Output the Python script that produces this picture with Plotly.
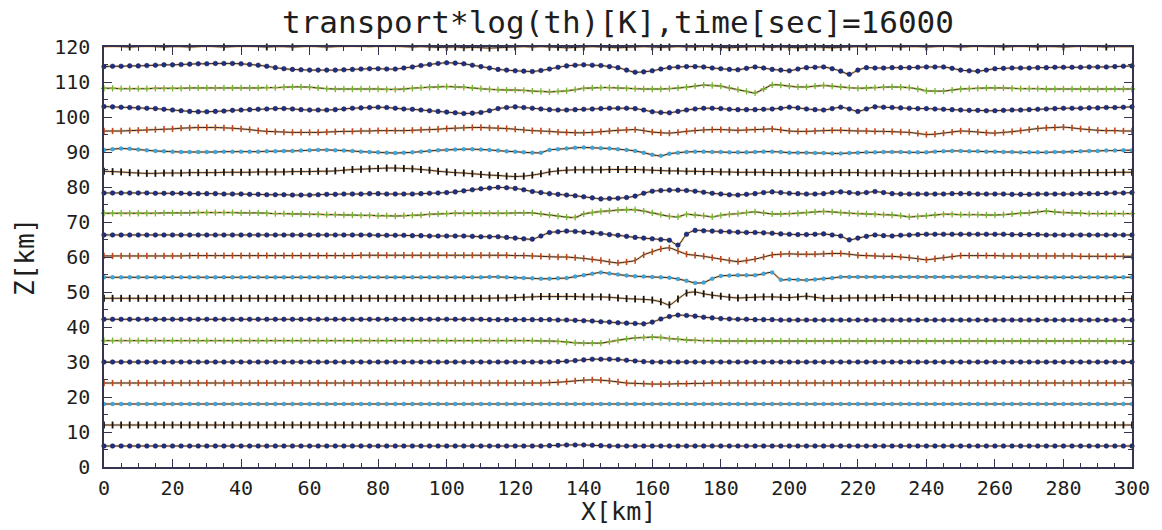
import plotly.graph_objects as go

# Horizontal positions of the tracer points along each isentrope [km]
X_KM = [i * 2.5 for i in range(121)]

# Undisturbed heights of the isentropes [km]
LEVELS = [6, 12, 18, 24, 30, 36, 42, 48, 54, 60, 66, 72, 78, 84, 90, 96, 102, 108, 114, 120]

# Vertical displacement of every isentrope at X_KM [km]
DEV_Z006 = [0.0, 0.0, 0.0, 0.0, 0.0, 0.0, 0.0, 0.0, 0.0, 0.0,
            0.0, 0.0, 0.0, 0.0, 0.0, 0.0, 0.0, 0.0, 0.0, 0.0,
            0.0, 0.0, 0.0, 0.0, 0.0, 0.0, 0.0, 0.0, 0.0, 0.0,
            0.0, 0.0, 0.0, 0.0, 0.0, 0.0, 0.0, 0.0, 0.0, 0.0,
            0.0, 0.0, 0.0, 0.0, 0.0, 0.0, 0.0, 0.0, 0.0, 0.0,
            0.0, 0.0, 0.1, 0.2, 0.3, 0.3, 0.3, 0.2, 0.1, 0.0,
            0.0, 0.0, 0.0, 0.0, 0.0, 0.0, 0.0, 0.0, 0.0, 0.0,
            0.0, 0.0, 0.0, 0.0, 0.0, 0.0, 0.0, 0.0, 0.0, 0.0,
            0.0, 0.0, 0.0, 0.0, 0.0, 0.0, 0.0, 0.0, 0.0, 0.0,
            0.0, 0.0, 0.0, 0.0, 0.0, 0.0, 0.0, 0.0, 0.0, 0.0,
            0.0, 0.0, 0.0, 0.0, 0.0, 0.0, 0.0, 0.0, 0.0, 0.0,
            0.0, 0.0, 0.0, 0.0, 0.0, 0.0, 0.0, 0.0, 0.0, 0.0,
            0.0]
DEV_Z012 = [0.0, 0.0, 0.0, 0.0, 0.0, 0.0, 0.0, 0.0, 0.0, 0.0,
            0.0, 0.0, 0.0, 0.0, 0.0, 0.0, 0.0, 0.0, 0.0, 0.0,
            0.0, 0.0, 0.0, 0.0, 0.0, 0.0, 0.0, 0.0, 0.0, 0.0,
            0.0, 0.0, 0.0, 0.0, 0.0, 0.0, 0.0, 0.0, 0.0, 0.0,
            0.0, 0.0, 0.0, 0.0, 0.0, 0.0, 0.0, 0.0, 0.0, 0.0,
            0.0, 0.0, 0.0, 0.0, 0.0, 0.0, 0.0, 0.0, 0.0, 0.0,
            0.0, 0.0, 0.0, 0.0, 0.0, 0.0, 0.0, 0.0, 0.0, 0.0,
            0.0, 0.0, 0.0, 0.0, 0.0, 0.0, 0.0, 0.0, 0.0, 0.0,
            0.0, 0.0, 0.0, 0.0, 0.0, 0.0, 0.0, 0.0, 0.0, 0.0,
            0.0, 0.0, 0.0, 0.0, 0.0, 0.0, 0.0, 0.0, 0.0, 0.0,
            0.0, 0.0, 0.0, 0.0, 0.0, 0.0, 0.0, 0.0, 0.0, 0.0,
            0.0, 0.0, 0.0, 0.0, 0.0, 0.0, 0.0, 0.0, 0.0, 0.0,
            0.0]
DEV_Z018 = [0.0, 0.0, 0.0, 0.0, 0.0, 0.0, 0.0, 0.0, 0.0, 0.0,
            0.0, 0.0, 0.0, 0.0, 0.0, 0.0, 0.0, 0.0, 0.0, 0.0,
            0.0, 0.0, 0.0, 0.0, 0.0, 0.0, 0.0, 0.0, 0.0, 0.0,
            0.0, 0.0, 0.0, 0.0, 0.0, 0.0, 0.0, 0.0, 0.0, 0.0,
            0.0, 0.0, 0.0, 0.0, 0.0, 0.0, 0.0, 0.0, 0.0, 0.0,
            0.0, 0.0, 0.0, 0.0, 0.0, 0.0, 0.0, 0.0, 0.0, 0.0,
            0.0, 0.0, 0.0, 0.0, 0.0, 0.0, 0.0, 0.0, 0.0, 0.0,
            0.0, 0.0, 0.0, 0.0, 0.0, 0.0, 0.0, 0.0, 0.0, 0.0,
            0.0, 0.0, 0.0, 0.0, 0.0, 0.0, 0.0, 0.0, 0.0, 0.0,
            0.0, 0.0, 0.0, 0.0, 0.0, 0.0, 0.0, 0.0, 0.0, 0.0,
            0.0, 0.0, 0.0, 0.0, 0.0, 0.0, 0.0, 0.0, 0.0, 0.0,
            0.0, 0.0, 0.0, 0.0, 0.0, 0.0, 0.0, 0.0, 0.0, 0.0,
            0.0]
DEV_Z024 = [0.0, 0.0, 0.0, 0.0, 0.0, 0.0, 0.0, 0.0, 0.0, 0.0,
            0.0, 0.0, 0.0, 0.0, 0.0, 0.0, 0.0, 0.0, 0.0, 0.0,
            0.0, 0.0, 0.0, 0.0, 0.0, 0.0, 0.0, 0.0, 0.0, 0.0,
            0.0, 0.0, 0.0, 0.0, 0.0, 0.0, 0.0, 0.0, 0.0, 0.0,
            0.0, 0.0, 0.0, 0.0, 0.0, 0.0, 0.0, 0.0, 0.0, 0.0,
            0.0, 0.0, 0.1, 0.2, 0.4, 0.6, 0.8, 0.9, 0.8, 0.6,
            0.3, 0.0, -0.1, -0.2, -0.3, -0.3, -0.3, -0.2, -0.2, -0.1,
            -0.1, 0.0, 0.0, 0.0, 0.0, 0.0, 0.0, 0.0, 0.0, 0.0,
            0.0, 0.0, 0.0, 0.0, 0.0, 0.0, 0.0, 0.0, 0.0, 0.0,
            0.0, 0.0, 0.0, 0.0, 0.0, 0.0, 0.0, 0.0, 0.0, 0.0,
            0.0, 0.0, 0.0, 0.0, 0.0, 0.0, 0.0, 0.0, 0.0, 0.0,
            0.0, 0.0, 0.0, 0.0, 0.0, 0.0, 0.0, 0.0, 0.0, 0.0,
            0.0]
DEV_Z030 = [0.0, 0.0, 0.0, 0.0, 0.0, 0.0, 0.0, 0.0, 0.0, 0.0,
            0.0, 0.0, 0.0, 0.0, 0.0, 0.0, 0.0, 0.0, 0.0, 0.0,
            0.0, 0.0, 0.0, 0.0, 0.0, 0.0, 0.0, 0.0, 0.0, 0.0,
            0.0, 0.0, 0.0, 0.0, 0.0, 0.0, 0.0, 0.0, 0.0, 0.0,
            0.0, 0.0, 0.0, 0.0, 0.0, 0.0, 0.0, 0.0, 0.0, 0.0,
            0.0, 0.0, 0.0, 0.1, 0.2, 0.4, 0.6, 0.8, 0.8, 0.8,
            0.7, 0.5, 0.3, 0.1, 0.0, 0.0, 0.0, 0.0, 0.0, 0.0,
            0.0, 0.0, 0.0, 0.0, 0.0, 0.0, 0.0, 0.0, 0.0, 0.0,
            0.0, 0.0, 0.0, 0.0, 0.0, 0.0, 0.0, 0.0, 0.0, 0.0,
            0.0, 0.0, 0.0, 0.0, 0.0, 0.0, 0.0, 0.0, 0.0, 0.0,
            0.0, 0.0, 0.0, 0.0, 0.0, 0.0, 0.0, 0.0, 0.0, 0.0,
            0.0, 0.0, 0.0, 0.0, 0.0, 0.0, 0.0, 0.0, 0.0, 0.0,
            0.0]
DEV_Z036 = [0.1, 0.1, 0.1, 0.1, 0.1, 0.1, 0.1, 0.1, 0.1, 0.1,
            0.1, 0.1, 0.1, 0.1, 0.1, 0.1, 0.1, 0.1, 0.1, 0.1,
            0.1, 0.1, 0.1, 0.1, 0.1, 0.1, 0.1, 0.1, 0.1, 0.1,
            0.1, 0.1, 0.1, 0.1, 0.1, 0.1, 0.1, 0.1, 0.1, 0.1,
            0.1, 0.1, 0.1, 0.1, 0.1, 0.1, 0.1, 0.1, 0.1, 0.1,
            0.1, 0.0, 0.0, -0.1, -0.3, -0.5, -0.6, -0.6, -0.6, -0.2,
            0.2, 0.6, 0.9, 1.0, 1.1, 1.0, 0.7, 0.5, 0.3, 0.2,
            0.1, 0.1, 0.0, 0.0, 0.0, 0.0, 0.0, 0.0, 0.0, 0.0,
            0.0, 0.0, 0.0, 0.0, 0.0, 0.0, 0.0, 0.0, 0.0, 0.0,
            0.0, 0.0, 0.0, 0.0, 0.0, 0.0, 0.0, 0.0, 0.0, 0.0,
            0.0, 0.0, 0.0, 0.0, 0.0, 0.0, 0.0, 0.0, 0.0, 0.0,
            0.0, 0.0, 0.0, 0.0, 0.0, 0.0, 0.0, 0.0, 0.0, 0.0,
            0.0]
DEV_Z042 = [0.2, 0.2, 0.2, 0.2, 0.2, 0.2, 0.2, 0.2, 0.2, 0.2,
            0.2, 0.2, 0.2, 0.2, 0.2, 0.2, 0.2, 0.2, 0.2, 0.2,
            0.2, 0.2, 0.2, 0.2, 0.2, 0.2, 0.2, 0.2, 0.2, 0.2,
            0.2, 0.2, 0.2, 0.2, 0.2, 0.2, 0.2, 0.2, 0.2, 0.2,
            0.2, 0.2, 0.2, 0.2, 0.2, 0.1, 0.1, 0.1, 0.1, 0.1,
            0.1, 0.1, 0.1, 0.0, 0.0, -0.1, -0.2, -0.3, -0.5, -0.6,
            -0.8, -0.9, -1.0, -1.1, -0.6, 0.3, 1.0, 1.4, 1.3, 1.1,
            0.8, 0.6, 0.4, 0.3, 0.2, 0.2, 0.1, 0.1, 0.1, 0.0,
            0.0, 0.0, 0.0, 0.0, 0.0, 0.0, 0.0, 0.0, 0.0, 0.0,
            0.0, 0.0, 0.0, 0.0, 0.0, 0.0, 0.0, 0.0, 0.0, 0.0,
            0.0, 0.0, 0.0, 0.0, 0.0, 0.0, 0.0, 0.0, 0.0, 0.0,
            0.0, 0.0, 0.0, 0.0, 0.0, 0.0, 0.0, 0.0, 0.0, 0.0,
            0.0]
DEV_Z048 = [0.2, 0.2, 0.2, 0.2, 0.2, 0.2, 0.2, 0.2, 0.2, 0.2,
            0.2, 0.2, 0.2, 0.2, 0.2, 0.2, 0.2, 0.2, 0.2, 0.2,
            0.2, 0.2, 0.2, 0.2, 0.2, 0.2, 0.2, 0.2, 0.2, 0.2,
            0.2, 0.2, 0.2, 0.2, 0.2, 0.2, 0.2, 0.2, 0.2, 0.2,
            0.2, 0.2, 0.2, 0.2, 0.2, 0.2, 0.3, 0.3, 0.4, 0.5,
            0.6, 0.7, 0.7, 0.7, 0.7, 0.7, 0.6, 0.6, 0.6, 0.5,
            0.3, 0.1, 0.0, -0.1, -0.3, -0.8, -1.7, 0.0, 1.7, 2.0,
            1.5, 1.1, 0.8, 0.5, 0.3, 0.4, 0.5, 0.6, 0.6, 0.5,
            0.4, 0.6, 0.8, 0.5, 0.2, 0.2, 0.2, 0.3, 0.3, 0.3,
            0.3, 0.4, 0.4, 0.4, 0.3, 0.3, 0.2, 0.2, 0.2, 0.2,
            0.2, 0.2, 0.2, 0.2, 0.2, 0.1, 0.1, 0.1, 0.1, 0.1,
            0.1, 0.1, 0.1, 0.1, 0.1, 0.1, 0.1, 0.1, 0.1, 0.1,
            0.1]
DEV_Z054 = [0.2, 0.2, 0.2, 0.2, 0.2, 0.2, 0.2, 0.2, 0.2, 0.2,
            0.2, 0.2, 0.2, 0.2, 0.2, 0.2, 0.2, 0.2, 0.2, 0.2,
            0.2, 0.2, 0.2, 0.2, 0.2, 0.2, 0.2, 0.2, 0.2, 0.2,
            0.2, 0.2, 0.2, 0.2, 0.2, 0.2, 0.2, 0.2, 0.2, 0.2,
            0.2, 0.2, 0.2, 0.2, 0.2, 0.3, 0.3, 0.2, 0.1, 0.0,
            -0.1, -0.2, -0.2, -0.1, 0.0, 0.4, 0.8, 1.2, 1.6, 1.3,
            1.0, 0.7, 0.5, 0.4, 0.3, 0.2, 0.1, -0.3, -0.8, -1.4,
            -1.3, -0.2, 0.6, 0.7, 0.8, 0.8, 0.8, 1.2, 1.6, -0.5,
            -0.4, -0.5, -0.6, -0.4, -0.2, 0.0, 0.3, 0.3, 0.3, 0.3,
            0.3, 0.3, 0.3, 0.3, 0.3, 0.3, 0.3, 0.3, 0.3, 0.3,
            0.3, 0.3, 0.3, 0.3, 0.2, 0.2, 0.2, 0.2, 0.2, 0.2,
            0.2, 0.2, 0.2, 0.2, 0.2, 0.2, 0.2, 0.2, 0.2, 0.2,
            0.2]
DEV_Z060 = [0.3, 0.3, 0.3, 0.3, 0.3, 0.3, 0.3, 0.3, 0.3, 0.3,
            0.4, 0.4, 0.4, 0.4, 0.4, 0.4, 0.4, 0.4, 0.4, 0.4,
            0.4, 0.4, 0.4, 0.4, 0.4, 0.4, 0.4, 0.4, 0.4, 0.4,
            0.5, 0.5, 0.5, 0.5, 0.5, 0.5, 0.5, 0.5, 0.5, 0.5,
            0.5, 0.5, 0.5, 0.5, 0.5, 0.5, 0.5, 0.5, 0.4, 0.4,
            0.3, 0.2, 0.1, 0.0, 0.0, -0.2, -0.4, -0.7, -1.0, -1.4,
            -1.7, -1.4, -1.0, 0.6, 1.5, 2.3, 2.6, 1.7, 0.8, 0.5,
            0.2, -0.2, -0.6, -1.0, -1.3, -1.0, -0.6, 0.0, 0.6, 0.8,
            0.9, 0.8, 0.8, 0.8, 0.9, 1.0, 1.0, 0.8, 0.5, 0.4,
            0.3, 0.2, 0.2, 0.0, -0.2, -0.5, -0.8, -0.5, -0.2, 0.1,
            0.4, 0.4, 0.4, 0.4, 0.4, 0.3, 0.3, 0.3, 0.3, 0.3,
            0.3, 0.3, 0.3, 0.3, 0.2, 0.2, 0.2, 0.2, 0.2, 0.2,
            0.2]
DEV_Z066 = [0.3, 0.3, 0.3, 0.3, 0.3, 0.3, 0.3, 0.3, 0.3, 0.3,
            0.3, 0.3, 0.3, 0.3, 0.3, 0.3, 0.3, 0.3, 0.3, 0.3,
            0.3, 0.3, 0.3, 0.3, 0.3, 0.3, 0.3, 0.3, 0.3, 0.3,
            0.3, 0.3, 0.2, 0.2, 0.2, 0.2, 0.1, 0.1, 0.0, 0.0,
            0.0, 0.0, 0.0, -0.1, -0.2, -0.2, -0.2, -0.4, -0.6, -0.8,
            -0.9, 0.0, 1.0, 1.2, 1.4, 1.3, 1.1, 0.9, 0.7, 0.4,
            0.2, -0.1, -0.4, -0.6, -0.8, -1.0, -1.2, -2.6, 0.5, 1.6,
            1.5, 1.4, 1.3, 1.2, 1.1, 1.0, 1.0, 0.9, 0.8, 0.6,
            0.5, 0.4, 0.4, 0.5, 0.6, 0.3, 0.0, -1.1, -0.6, -0.1,
            0.3, 0.1, 0.0, 0.2, 0.3, 0.4, 0.5, 0.5, 0.5, 0.5,
            0.5, 0.5, 0.5, 0.5, 0.5, 0.5, 0.4, 0.4, 0.4, 0.4,
            0.3, 0.3, 0.3, 0.3, 0.3, 0.3, 0.3, 0.3, 0.3, 0.3,
            0.3]
DEV_Z072 = [0.5, 0.5, 0.5, 0.5, 0.5, 0.5, 0.5, 0.6, 0.6, 0.6,
            0.6, 0.7, 0.7, 0.7, 0.7, 0.7, 0.6, 0.6, 0.6, 0.5,
            0.4, 0.4, 0.3, 0.3, 0.2, 0.2, 0.1, 0.1, 0.0, 0.0,
            -0.1, -0.1, -0.2, -0.2, -0.3, -0.2, -0.1, 0.0, 0.2, 0.3,
            0.4, 0.5, 0.5, 0.5, 0.5, 0.5, 0.5, 0.5, 0.6, 0.6,
            0.6, 0.3, 0.0, -0.3, -0.6, -0.7, 0.3, 0.7, 1.0, 1.2,
            1.4, 1.5, 1.5, 1.1, 0.6, 0.1, -0.4, -0.5, 0.2, 0.0,
            -0.2, -0.5, -0.1, 0.2, 0.4, 0.7, 0.9, 0.6, 0.3, 0.3,
            0.4, 0.5, 0.7, 0.9, 1.0, 0.9, 0.7, 0.5, 0.4, 0.3,
            0.2, 0.1, 0.0, -0.2, -0.5, -0.4, -0.2, 0.0, 0.2, 0.2,
            0.1, 0.1, 0.1, 0.0, 0.0, 0.1, 0.3, 0.5, 0.6, 0.9,
            1.1, 0.9, 0.7, 0.6, 0.5, 0.4, 0.4, 0.4, 0.4, 0.4,
            0.4]
DEV_Z078 = [0.3, 0.3, 0.3, 0.3, 0.3, 0.3, 0.2, 0.2, 0.2, 0.2,
            0.1, 0.1, 0.1, 0.1, 0.0, 0.0, 0.0, -0.1, -0.1, -0.2,
            -0.2, -0.2, -0.3, -0.3, -0.3, -0.2, -0.1, -0.1, 0.0, 0.0,
            0.0, 0.1, 0.1, 0.0, 0.0, 0.0, 0.0, 0.1, 0.2, 0.3,
            0.4, 0.6, 0.9, 1.2, 1.5, 1.7, 1.9, 1.8, 1.6, 1.2,
            0.7, 0.4, 0.1, -0.1, -0.3, -0.5, -0.8, -1.1, -1.4, -1.3,
            -1.2, -1.0, -0.6, 0.2, 0.8, 1.0, 1.1, 1.1, 1.0, 0.8,
            0.5, 0.2, 0.0, -0.2, -0.3, -0.1, 0.1, 0.4, 0.6, 0.4,
            0.2, 0.1, 0.0, 0.0, 0.1, 0.4, 0.6, 0.4, 0.2, 0.4,
            0.7, 0.4, 0.1, 0.0, 0.0, 0.0, 0.0, 0.0, 0.0, 0.1,
            0.1, 0.1, 0.0, 0.0, 0.0, 0.0, -0.1, -0.1, -0.1, 0.0,
            0.0, 0.0, 0.0, 0.0, 0.1, 0.1, 0.1, 0.2, 0.3, 0.3,
            0.4]
DEV_Z084 = [0.5, 0.4, 0.3, 0.1, 0.0, -0.1, -0.1, 0.0, 0.0, 0.0,
            0.1, 0.1, 0.1, 0.1, 0.2, 0.2, 0.2, 0.2, 0.3, 0.3,
            0.3, 0.3, 0.4, 0.4, 0.4, 0.5, 0.5, 0.6, 0.8, 1.0,
            1.1, 1.2, 1.3, 1.4, 1.4, 1.3, 1.2, 1.0, 0.8, 0.5,
            0.3, 0.1, 0.0, -0.2, -0.4, -0.6, -0.7, -0.9, -1.0, -0.9,
            -0.6, -0.2, 0.3, 0.6, 0.8, 0.9, 0.9, 0.9, 0.9, 1.0,
            1.0, 1.0, 1.0, 0.9, 0.8, 0.7, 0.6, 0.6, 0.5, 0.5,
            0.4, 0.4, 0.3, 0.3, 0.2, 0.2, 0.2, 0.2, 0.1, 0.1,
            0.1, 0.1, 0.0, 0.0, 0.0, 0.1, 0.1, 0.1, 0.1, 0.0,
            0.0, 0.0, 0.0, -0.1, -0.1, -0.1, -0.1, -0.1, 0.0, 0.0,
            0.0, 0.0, 0.0, 0.0, 0.0, 0.1, 0.1, 0.1, 0.0, 0.0,
            0.0, 0.0, 0.0, 0.0, 0.1, 0.1, 0.1, 0.1, 0.2, 0.2,
            0.2]
DEV_Z090 = [0.6, 0.8, 1.0, 0.9, 0.7, 0.5, 0.3, 0.2, 0.1, 0.0,
            0.0, 0.0, 0.0, 0.0, 0.1, 0.1, 0.1, 0.1, 0.1, 0.2,
            0.2, 0.3, 0.3, 0.4, 0.5, 0.6, 0.6, 0.5, 0.4, 0.3,
            0.1, 0.0, -0.1, -0.2, -0.3, -0.2, -0.1, 0.1, 0.3, 0.5,
            0.6, 0.7, 0.8, 0.8, 0.7, 0.6, 0.4, 0.2, 0.1, -0.1,
            -0.2, -0.2, 0.6, 0.8, 1.0, 1.2, 1.3, 1.2, 1.1, 1.0,
            0.8, 0.6, 0.3, -0.2, -0.8, -1.1, -0.5, -0.2, 0.0, 0.1,
            0.1, 0.0, 0.0, -0.1, -0.1, -0.1, 0.0, 0.1, 0.1, 0.0,
            -0.2, -0.2, -0.2, -0.3, -0.3, -0.4, -0.4, -0.3, -0.2, -0.1,
            -0.1, 0.0, 0.0, 0.0, -0.1, -0.1, -0.1, 0.1, 0.2, 0.3,
            0.3, 0.2, 0.2, 0.1, 0.1, 0.0, 0.0, -0.1, -0.1, -0.1,
            -0.1, 0.0, 0.0, 0.1, 0.2, 0.3, 0.3, 0.4, 0.4, 0.5,
            0.5]
DEV_Z096 = [0.0, 0.0, 0.0, 0.1, 0.2, 0.3, 0.4, 0.5, 0.6, 0.8,
            0.9, 1.0, 1.0, 1.0, 0.9, 0.8, 0.6, 0.4, 0.1, -0.1,
            -0.2, -0.3, -0.4, -0.4, -0.4, -0.4, -0.3, -0.2, -0.1, -0.1,
            0.0, 0.0, 0.1, 0.1, 0.1, 0.1, 0.2, 0.3, 0.4, 0.5,
            0.7, 0.8, 0.9, 1.0, 1.0, 0.9, 0.8, 0.7, 0.5, 0.3,
            0.1, 0.0, -0.1, -0.3, -0.4, -0.5, -0.5, -0.4, -0.2, 0.0,
            0.2, 0.3, 0.4, 0.1, -0.3, -0.5, -0.6, -0.4, -0.1, 0.1,
            0.3, 0.4, 0.4, 0.3, 0.2, 0.3, 0.4, 0.5, 0.6, 0.3,
            0.0, -0.1, -0.1, 0.0, 0.1, 0.2, 0.2, 0.1, 0.0, 0.0,
            -0.1, -0.1, -0.2, -0.3, -0.4, -0.7, -1.0, -0.9, -0.6, -0.3,
            0.0, -0.1, -0.3, -0.5, -0.6, -0.4, -0.2, 0.1, 0.4, 0.7,
            0.9, 1.0, 1.1, 0.9, 0.6, 0.4, 0.2, 0.1, 0.1, 0.0,
            0.0]
DEV_Z102 = [1.0, 0.9, 0.8, 0.7, 0.6, 0.5, 0.4, 0.2, 0.0, -0.2,
            -0.4, -0.5, -0.5, -0.4, -0.3, -0.1, 0.0, 0.1, 0.2, 0.3,
            0.4, 0.4, 0.3, 0.1, 0.0, 0.0, 0.0, 0.1, 0.3, 0.5,
            0.6, 0.7, 0.8, 0.7, 0.5, 0.3, 0.2, 0.0, -0.2, -0.4,
            -0.6, -0.8, -1.0, -0.9, -0.7, -0.2, 0.4, 0.7, 0.9, 0.7,
            0.5, 0.3, 0.1, 0.0, 0.0, 0.1, 0.2, 0.3, 0.4, 0.5,
            0.5, 0.5, 0.4, 0.0, -0.5, -0.7, -0.8, -0.4, 0.0, 0.3,
            0.5, 0.5, 0.4, 0.2, 0.1, 0.1, 0.1, 0.2, 0.3, 0.5,
            0.8, 0.6, 0.3, 0.1, 0.0, 0.4, 0.8, 0.3, -0.4, 0.3,
            0.9, 0.8, 0.7, 0.6, 0.5, 0.4, 0.4, 0.3, 0.2, 0.1,
            0.0, -0.1, -0.1, -0.2, -0.2, -0.1, 0.0, 0.0, 0.1, 0.2,
            0.3, 0.4, 0.5, 0.5, 0.5, 0.6, 0.6, 0.7, 0.7, 0.8,
            0.9]
DEV_Z108 = [0.2, 0.2, 0.1, 0.1, 0.1, 0.1, 0.2, 0.2, 0.2, 0.2,
            0.3, 0.3, 0.3, 0.3, 0.3, 0.3, 0.3, 0.3, 0.3, 0.4,
            0.4, 0.5, 0.6, 0.6, 0.5, 0.3, 0.1, 0.0, 0.0, 0.0,
            0.0, 0.0, 0.0, -0.1, -0.1, 0.0, 0.2, 0.4, 0.5, 0.6,
            0.7, 0.6, 0.5, 0.3, 0.1, -0.1, -0.2, -0.3, -0.3, -0.4,
            -0.6, -0.7, -0.8, -0.7, -0.5, -0.2, 0.2, 0.3, 0.4, 0.4,
            0.3, 0.2, 0.1, 0.0, 0.0, 0.0, 0.1, 0.3, 0.5, 0.8,
            1.1, 1.0, 0.8, 0.3, -0.2, -0.7, -1.1, 0.0, 1.2, 1.1,
            0.8, 0.6, 0.6, 0.8, 1.0, 0.8, 0.6, 0.4, 0.2, 0.3,
            0.4, 0.5, 0.6, 0.5, 0.4, 0.0, -0.5, -0.6, -0.6, -0.3,
            0.0, 0.1, 0.2, 0.3, 0.3, 0.3, 0.2, 0.1, 0.1, 0.1,
            0.0, 0.0, 0.0, 0.0, 0.0, 0.0, 0.0, 0.0, 0.0, 0.0,
            0.0]
DEV_Z114 = [0.4, 0.5, 0.5, 0.6, 0.6, 0.7, 0.8, 0.9, 0.9, 1.0,
            1.1, 1.2, 1.2, 1.3, 1.3, 1.3, 1.2, 1.0, 0.8, 0.5,
            0.1, -0.2, -0.4, -0.5, -0.6, -0.6, -0.6, -0.6, -0.5, -0.4,
            -0.3, -0.2, -0.2, -0.3, -0.3, 0.0, 0.3, 0.7, 1.0, 1.3,
            1.5, 1.4, 1.2, 0.8, 0.4, 0.0, -0.4, -0.6, -0.8, -0.9,
            -1.0, -0.7, -0.3, 0.2, 0.6, 0.8, 0.9, 0.8, 0.7, 0.4,
            0.1, -0.6, -1.2, -1.1, -0.8, -0.3, 0.1, 0.3, 0.4, 0.4,
            0.3, 0.0, -0.2, -0.4, -0.5, -0.1, 0.3, 0.0, -0.4, -0.6,
            -0.8, -0.3, 0.1, 0.2, 0.3, -0.2, -0.9, -1.8, -0.6, 0.1,
            0.0, 0.0, 0.1, 0.1, 0.1, 0.2, 0.3, 0.3, 0.3, -0.1,
            -0.6, -0.8, -0.9, -0.6, -0.2, -0.1, 0.0, 0.0, 0.0, 0.1,
            0.1, 0.2, 0.2, 0.2, 0.2, 0.3, 0.3, 0.3, 0.4, 0.5,
            0.6]
DEV_Z120 = [0.1, 0.2, 0.1, 0.0, 0.1, 0.2, 0.1, 0.0, 0.1, 0.1,
            0.0, 0.1, 0.2, 0.1, 0.0, 0.1, 0.2, 0.2, 0.1, 0.0,
            0.1, 0.1, 0.0, 0.1, 0.2, 0.1, 0.0, 0.1, 0.2, 0.3,
            0.2, 0.1, 0.2, 0.3, 0.2, 0.1, 0.0, 0.1, 0.0, -0.1,
            -0.1, 0.0, -0.2, -0.1, -0.2, -0.3, -0.2, -0.1, 0.0, 0.1,
            0.0, 0.1, 0.0, -0.1, -0.2, -0.1, 0.0, 0.1, 0.0, -0.1,
            -0.2, -0.1, 0.0, 0.1, 0.0, -0.1, 0.0, 0.1, 0.0, 0.0,
            0.1, 0.0, -0.1, -0.2, -0.1, 0.0, 0.1, 0.0, -0.1, 0.0,
            -0.1, -0.2, -0.1, 0.0, -0.1, -0.2, -0.1, 0.0, 0.1, 0.0,
            0.1, 0.2, 0.1, 0.0, 0.1, 0.1, 0.0, 0.1, 0.2, 0.1,
            0.0, 0.1, 0.2, 0.1, 0.1, 0.0, 0.1, 0.2, 0.1, 0.0,
            0.1, 0.1, 0.0, 0.1, 0.2, 0.1, 0.1, 0.0, 0.1, 0.1,
            0.1]

DISPLACEMENTS = [DEV_Z006, DEV_Z012, DEV_Z018, DEV_Z024, DEV_Z030,
                 DEV_Z036, DEV_Z042, DEV_Z048, DEV_Z054, DEV_Z060,
                 DEV_Z066, DEV_Z072, DEV_Z078, DEV_Z084, DEV_Z090,
                 DEV_Z096, DEV_Z102, DEV_Z108, DEV_Z114, DEV_Z120]

TICKS_X = [0, 20, 40, 60, 80, 100, 120, 140, 160, 180, 200, 220, 240, 260, 280, 300]
TICKS_Z = [0, 10, 20, 30, 40, 50, 60, 70, 80, 90, 100, 110, 120]

# Tracer styles repeat every six isentropes, counting from the lowest one
TRACER_STYLES = [
    dict(symbol="circle", size=4.6, color="#1d2f86", line=dict(width=0.5, color="#10184a")),
    dict(symbol="line-ns-open", size=5, color="#151515", line=dict(width=1.8, color="#151515")),
    dict(symbol="circle", size=4, color="#38a9e0", line=dict(width=0.3, color="#2a7cb8")),
    dict(symbol="line-ns-open", size=4.5, color="#c4461f", line=dict(width=1.6, color="#c4461f")),
    dict(symbol="circle", size=4.6, color="#1d2f86", line=dict(width=0.5, color="#10184a")),
    dict(symbol="cross-thin-open", size=4.5, color="#74b53a", line=dict(width=1.3, color="#74b53a")),
]

FONT = "DejaVu Sans Mono"

fig = go.Figure()
for i, (z0, dev) in enumerate(zip(LEVELS, DISPLACEMENTS)):
    z = [z0 + d for d in dev]
    # warm halo under each isentrope
    fig.add_trace(go.Scatter(
        x=X_KM, y=z, mode="lines",
        line=dict(color="rgba(232,150,50,0.5)", width=2.4, shape="spline", smoothing=0.7),
        hoverinfo="skip", showlegend=False, cliponaxis=False))
    fig.add_trace(go.Scatter(
        x=X_KM, y=z, mode="lines+markers",
        line=dict(color="#26242e", width=1.0, shape="spline", smoothing=0.7),
        marker=TRACER_STYLES[i % 6],
        showlegend=False, cliponaxis=False))

axis_common = dict(
    showline=True, linecolor="#34344e", linewidth=1.5, mirror="ticks",
    ticks="inside", ticklen=8, tickwidth=1.3, tickcolor="#34344e",
    showgrid=False, zeroline=False,
    tickfont=dict(family=FONT, size=20, color="#1e1e1e"),
)

fig.update_xaxes(range=[0, 300], tickmode="array", tickvals=TICKS_X,
                 ticklabelstandoff=2,
                 minor=dict(dtick=5, ticklen=4, tickcolor="#34344e", ticks="inside"),
                 **axis_common)
fig.update_yaxes(range=[0, 120], tickmode="array", tickvals=TICKS_Z,
                 ticklabelstandoff=8,
                 minor=dict(dtick=5, ticklen=4, tickcolor="#34344e", ticks="inside"),
                 **axis_common)

fig.update_layout(
    width=1162, height=530,
    margin=dict(l=104, r=25, t=47, b=63),
    paper_bgcolor="white", plot_bgcolor="white",
    title=dict(text="transport*log(th)[K],time[sec]=16000",
               x=0.5, xref="paper", xanchor="center",
               y=1 - 22 / 530, yanchor="middle",
               font=dict(family=FONT, size=31, color="#1e1e1e")),
    annotations=[
        dict(text="X[km]", xref="paper", yref="paper", x=0.5, y=0,
             xanchor="center", yanchor="bottom", yshift=-61, showarrow=False,
             font=dict(family=FONT, size=25, color="#1e1e1e")),
        dict(text="Z[km]", xref="paper", yref="paper", x=0, y=0.5,
             xanchor="center", yanchor="middle", xshift=-79, textangle=-90,
             showarrow=False, font=dict(family=FONT, size=26, color="#1e1e1e")),
    ],
)

fig.write_html("out.html")
